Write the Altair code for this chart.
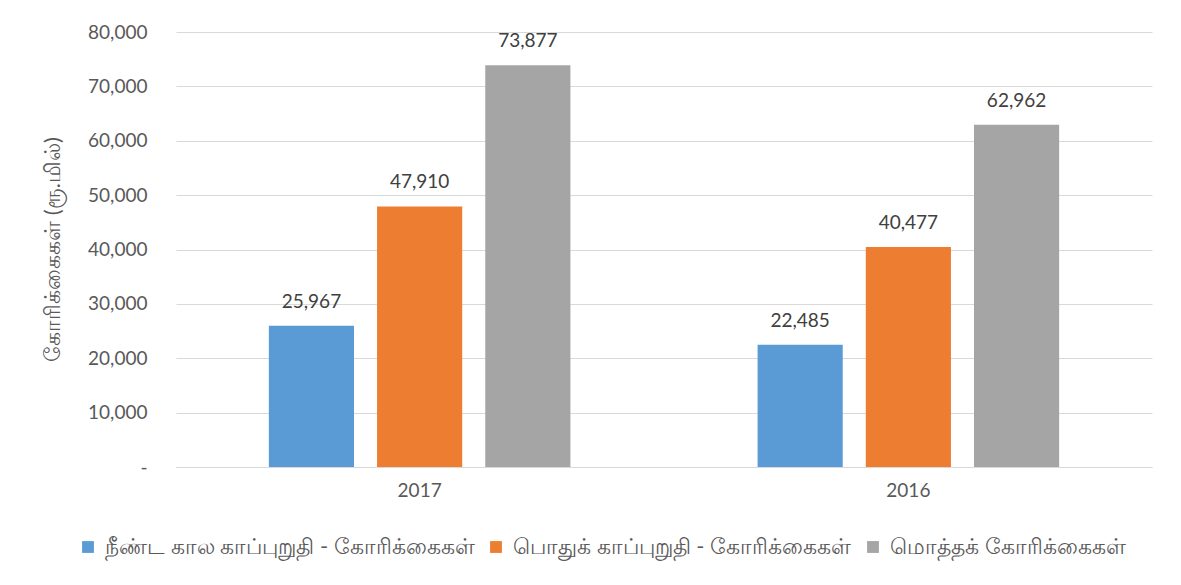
import altair as alt
import pandas as pd

years = ["2017", "2016"]
series = ["நீண்ட கால காப்புறுதி - கோரிக்கைகள்", "பொதுக் காப்புறுதி - கோரிக்கைகள்", "மொத்தக் கோரிக்கைகள்"]
values_2017 = [25967, 47910, 73877]
values_2016 = [22485, 40477, 62962]
colors = ["#5b9bd5", "#ed7d31", "#a5a5a5"]
y_title = "கோரிக்கைகள்  (ரூ.மில்)"

rows = []
for y, vals in zip(years, [values_2017, values_2016]):
    for s, v in zip(series, vals):
        rows.append({"year": y, "series": s, "value": v})
df = pd.DataFrame(rows)

FONT = "Lato"

x = alt.X("year:N", sort=years, title=None,
          scale=alt.Scale(paddingInner=0.383, paddingOuter=0.19),
          axis=alt.Axis(labelAngle=0, labelFontSize=19, labelColor="#595959", labelFont=FONT,
                        ticks=False, domainColor="#d9d9d9", domainWidth=1, labelPadding=14, grid=False))
xo = alt.XOffset("series:N", sort=series, scale=alt.Scale(paddingInner=0.213, paddingOuter=0))
yenc = alt.Y("value:Q", scale=alt.Scale(domain=[0, 80000], nice=False),
             axis=alt.Axis(values=list(range(0, 80001, 10000)), title=y_title,
                           labelExpr="datum.value == 0 ? '-' : format(datum.value, ',')",
                           labelFontSize=19, labelColor="#595959", labelFont=FONT, labelPadding=29,
                           ticks=False, domain=False, gridColor="#d9d9d9", gridWidth=1,
                           titleFontSize=22, titleColor="#595959", titleFont=FONT, titleFontWeight="normal",
                           titleAngle=-90, titleBaseline="middle", titleX=-124, titleY=217))

bars = alt.Chart(df).mark_bar().encode(
    x=x, xOffset=xo, y=yenc,
    color=alt.Color("series:N", sort=series, scale=alt.Scale(domain=series, range=colors),
                    legend=alt.Legend(title=None, orient="none", direction="horizontal",
                                      legendX=-99, legendY=504, symbolType="square", symbolSize=140,
                                      symbolStrokeWidth=0, labelFontSize=22, labelColor="#595959",
                                      labelFont=FONT, columnPadding=10, labelLimit=0, labelOffset=6))
)
labels = alt.Chart(df).mark_text(dy=-14, baseline="bottom", fontSize=19, color="#404040", font=FONT).encode(
    x=alt.X("year:N", sort=years), xOffset=xo, y="value:Q",
    text=alt.Text("value:Q", format=",")
)

chart = (bars + labels).properties(
    width=976, height=435,
    padding={"left": 168, "top": 24, "right": 21, "bottom": 100},
    autosize=alt.AutoSizeParams(type="none"),
    background="white",
).configure_view(stroke=None)

chart.save("out.html", embed_options={"renderer": "svg", "actions": False})
